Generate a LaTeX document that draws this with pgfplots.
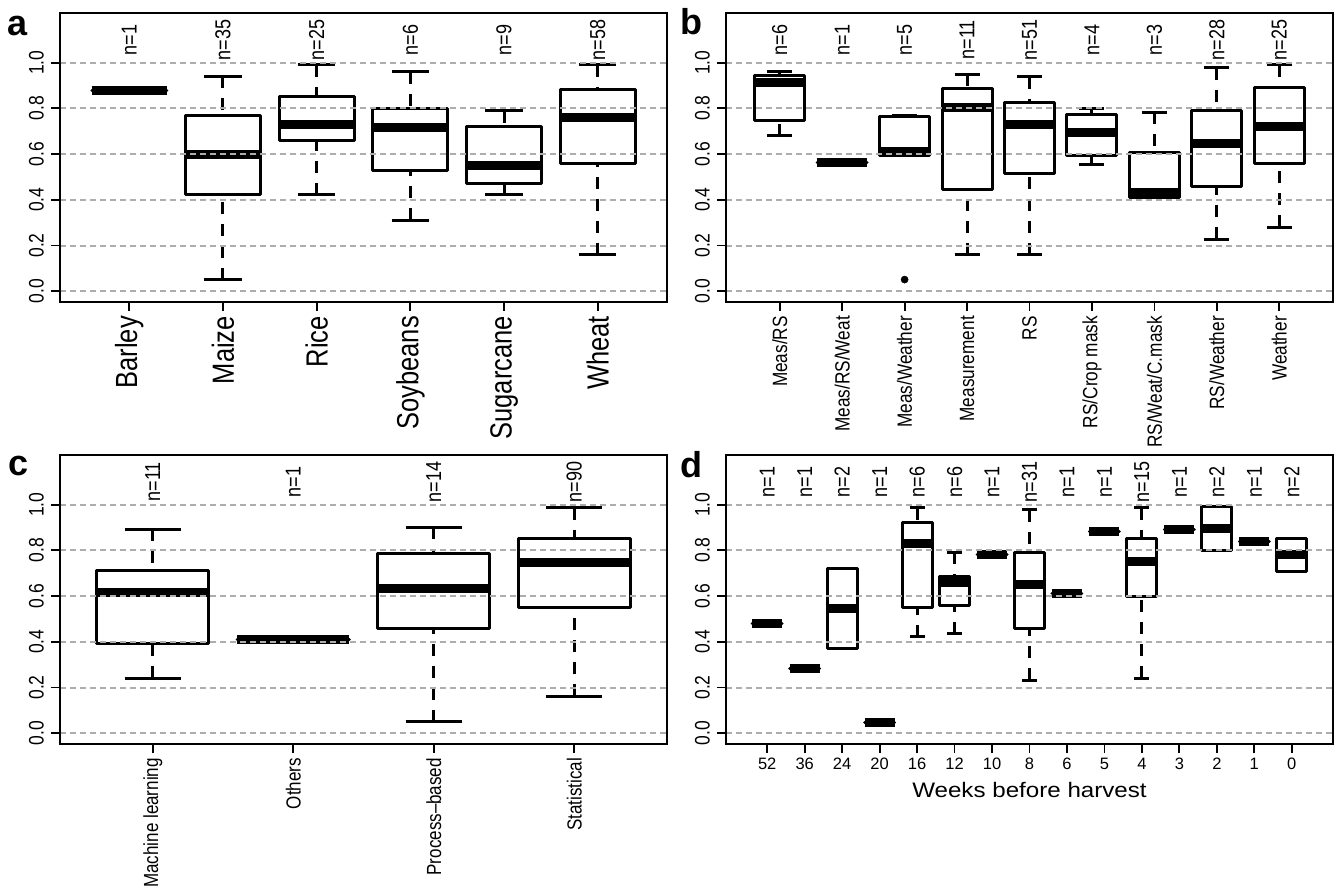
\documentclass[border=0pt]{standalone}
\usepackage{fontspec}
\setmainfont{Liberation Sans}
\usepackage{pgfplots}
\usepackage{pgfplotstable}
\pgfplotsset{compat=1.18}
\usepgfplotslibrary{statistics}

\newcommand{\fs}[1]{\fontsize{#1bp}{#1bp}\selectfont}
% rotated labels: glyphs a little taller, as in the reference
\newcommand{\sy}[1]{\scalebox{1}[1.2]{#1}}

% panel a: crops
\pgfplotstableread{
lw lq med uq uw
0.880 0.880 0.880 0.880 0.880
0.050 0.425 0.600 0.769 0.940
0.422 0.658 0.731 0.852 0.990
0.310 0.527 0.718 0.800 0.959
0.422 0.473 0.550 0.720 0.790
0.160 0.558 0.760 0.883 0.990
}\tabA
% panel b: data sources
\pgfplotstableread{
lw lq med uq uw
0.680 0.747 0.913 0.943 0.959
0.563 0.563 0.563 0.563 0.563
0.594 0.594 0.613 0.764 0.770
0.160 0.444 0.805 0.885 0.949
0.160 0.517 0.728 0.827 0.939
0.553 0.594 0.696 0.772 0.800
0.410 0.410 0.430 0.607 0.782
0.228 0.459 0.645 0.792 0.978
0.279 0.558 0.720 0.892 0.990
}\tabB
% panel c: model types
\pgfplotstableread{
lw lq med uq uw
0.241 0.391 0.617 0.711 0.893
0.409 0.409 0.409 0.409 0.409
0.050 0.460 0.635 0.784 0.901
0.161 0.548 0.747 0.852 0.987
}\tabC
% panel d: weeks before harvest
\pgfplotstableread{
lw lq med uq uw
0.481 0.481 0.481 0.481 0.481
0.282 0.282 0.282 0.282 0.282
0.369 0.369 0.547 0.722 0.722
0.049 0.049 0.049 0.049 0.049
0.423 0.551 0.831 0.921 0.987
0.435 0.558 0.660 0.686 0.791
0.780 0.780 0.780 0.780 0.780
0.231 0.456 0.650 0.791 0.977
0.612 0.612 0.612 0.612 0.612
0.881 0.881 0.881 0.881 0.881
0.241 0.597 0.750 0.852 0.987
0.892 0.892 0.892 0.892 0.892
0.798 0.798 0.895 0.990 0.990
0.840 0.840 0.840 0.840 0.840
0.708 0.708 0.780 0.852 0.852
}\tabD

\pgfplotsset{
  boxplot/draw/lower whisker/.code={%
    \draw[/pgfplots/boxplot/every whisker/.try, dash pattern=on 12bp off 10bp]
      (boxplot box cs:\pgfplotsboxplotvalue{lower whisker},0.5) --
      (boxplot box cs:\pgfplotsboxplotvalue{lower quartile},0.5);
    \draw[/pgfplots/boxplot/every whisker/.try]
      (boxplot whisker cs:\pgfplotsboxplotvalue{lower whisker},0) --
      (boxplot whisker cs:\pgfplotsboxplotvalue{lower whisker},1);
  },
  boxplot/draw/upper whisker/.code={%
    \draw[/pgfplots/boxplot/every whisker/.try, dash pattern=on 12bp off 10bp]
      (boxplot box cs:\pgfplotsboxplotvalue{upper whisker},0.5) --
      (boxplot box cs:\pgfplotsboxplotvalue{upper quartile},0.5);
    \draw[/pgfplots/boxplot/every whisker/.try]
      (boxplot whisker cs:\pgfplotsboxplotvalue{upper whisker},0) --
      (boxplot whisker cs:\pgfplotsboxplotvalue{upper whisker},1);
  },
  panel/.style={
    scale only axis, width=607bp, height=289bp,
    anchor=south west,
    ymin=-0.047, ymax=1.217,
    ytick={0,0.2,0.4,0.6,0.8,1},
    yticklabels={\sy{0.0},\sy{0.2},\sy{0.4},\sy{0.6},\sy{0.8},\sy{1.0}},
    tick pos=left, tick align=outside,
    major tick length=9bp,
    every tick/.style={black, line width=1.8bp},
    axis line style={line width=2bp},
    ymajorgrids,
    grid style={color=black!32, line width=2bp, dash pattern=on 6bp off 4bp},
    axis on top,
    yticklabel style={xshift=-7bp, rotate=90, anchor=south, font=\fs{17.5}, inner sep=0pt},
    boxplot/draw direction=y,
    boxplot/box extend=0.8,
    boxplot/whisker extend=0.4,
    boxplot/every box/.style={line width=3bp, line join=round},
    boxplot/every whisker/.style={line width=3bp},
    boxplot/every median/.style={line width=9bp},
  },
}

% draw all boxes of one table
\newcommand{\drawboxes}[2]{% #1 table, #2 last row index
  \pgfplotsinvokeforeach{0,...,#2}{%
    \pgfplotstablegetelem{##1}{lw}\of#1\let\vlw\pgfplotsretval
    \pgfplotstablegetelem{##1}{lq}\of#1\let\vlq\pgfplotsretval
    \pgfplotstablegetelem{##1}{med}\of#1\let\vmed\pgfplotsretval
    \pgfplotstablegetelem{##1}{uq}\of#1\let\vuq\pgfplotsretval
    \pgfplotstablegetelem{##1}{uw}\of#1\let\vuw\pgfplotsretval
    \edef\doplot{\noexpand\addplot[black, solid, boxplot prepared={
      draw position=\the\numexpr##1+1\relax,
      lower whisker=\vlw, lower quartile=\vlq, median=\vmed,
      upper quartile=\vuq, upper whisker=\vuw}] coordinates {};}%
    \doplot
  }%
}
% sample-size labels
\newcommand{\nlabels}[1]{%
  \foreach \x/\n in {#1}{%
    \edef\donode{\noexpand\node[rotate=90, font=\noexpand\fs{18}] at (axis cs:\x,1.1) {\noexpand\sy{n=\n}};}%
    \donode
  }%
}

\begin{document}
\begin{tikzpicture}
\useasboundingbox (0,0) rectangle (1344bp,891bp);

% ---------- a ----------
\begin{axis}[panel, at={(60bp,589bp)},
  xmin=0.26, xmax=6.74, xtick={1,...,6},
  xticklabels={\sy{Barley},\sy{Maize},\sy{Rice},\sy{Soybeans},\sy{Sugarcane},\sy{Wheat}},
  xticklabel style={yshift=-5bp, rotate=90, anchor=east, font=\fs{25.5}, inner sep=0pt}]
\drawboxes{\tabA}{5}
\nlabels{1/1,2/35,3/25,4/6,5/9,6/58}
\end{axis}

% ---------- b ----------
\begin{axis}[panel, at={(726bp,589bp)},
  xmin=0.14, xmax=9.86, xtick={1,...,9},
  xticklabels={\sy{Meas/RS},\sy{Meas/RS/Weat},\sy{Meas/Weather},\sy{Measurement},\sy{RS},\sy{RS/Crop mask},\sy{RS/Weat/C.mask},\sy{RS/Weather},\sy{Weather}},
  xticklabel style={yshift=-5bp, rotate=90, anchor=east, font=\fs{17.2}, inner sep=0pt}]
\drawboxes{\tabB}{8}
\addplot[only marks, mark=*, mark size=3.6bp, black] coordinates {(3,0.051)};
\nlabels{1/6,2/1,3/5,4/11,5/51,6/4,7/3,8/28,9/25}
\end{axis}

% ---------- c ----------
\begin{axis}[panel, at={(60bp,147bp)},
  xmin=0.34, xmax=4.66, xtick={1,...,4},
  xticklabels={\sy{Machine learning},\sy{Others},\sy{Process--based},\sy{Statistical}},
  xticklabel style={yshift=-5bp, rotate=90, anchor=east, font=\fs{17}, inner sep=0pt}]
\drawboxes{\tabC}{3}
\nlabels{1/11,2/1,3/14,4/90}
\end{axis}

% ---------- d ----------
\begin{axis}[panel, at={(726bp,147bp)},
  xmin=-0.1, xmax=16.1, xtick={1,...,15},
  xticklabels={52,36,24,20,16,12,10,8,6,5,4,3,2,1,0},
  xticklabel style={anchor=north, font=\fs{16.5}, inner sep=0pt, yshift=-5bp},
  xlabel={\scalebox{1.15}[1]{Weeks before harvest}},
  xlabel style={at={(axis description cs:0.5,0)}, anchor=base, yshift=-53bp, font=\fs{21}, inner sep=0pt}]
\drawboxes{\tabD}{14}
\nlabels{1/1,2/1,3/2,4/1,5/6,6/6,7/1,8/31,9/1,10/1,11/15,12/1,13/2,14/1,15/2}
\end{axis}

% panel letters
\node[anchor=base west, font=\fs{36}\bfseries, inner sep=0pt] at (7bp,855bp) {a};
\node[anchor=base west, font=\fs{36}\bfseries, inner sep=0pt] at (680bp,856bp) {b};
\node[anchor=base west, font=\fs{36}\bfseries, inner sep=0pt] at (8bp,415bp) {c};
\node[anchor=base west, font=\fs{36}\bfseries, inner sep=0pt] at (680bp,413bp) {d};
\end{tikzpicture}
\end{document}
